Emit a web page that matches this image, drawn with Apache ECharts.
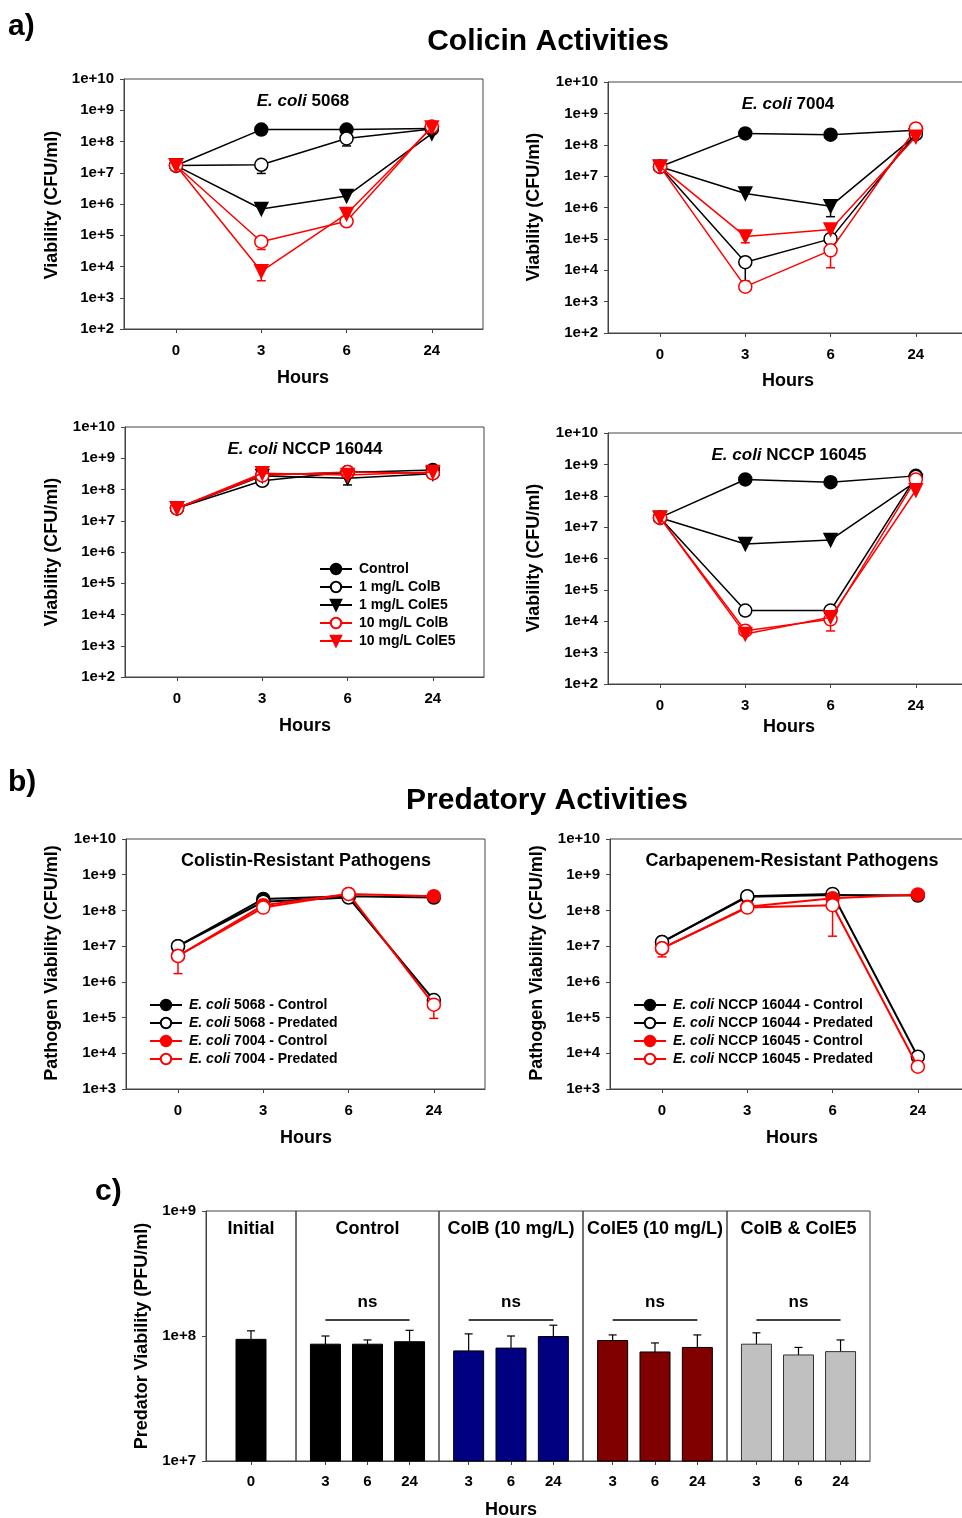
<!DOCTYPE html>
<html>
<head>
<meta charset="utf-8">
<script src="https://cdn.jsdelivr.net/npm/echarts@6/dist/echarts.min.js"></script>
<style>
html,body{margin:0;padding:0;background:#fff;}
#chart{width:962px;height:1518px;}
</style>
</head>
<body>
<div id="chart"></div>
<script>
// ---------------- DATA ----------------
const hours = ['0', '3', '6', '24'];
const colicinNames = ['Control', '1 mg/L ColB', '1 mg/L ColE5', '10 mg/L ColB', '10 mg/L ColE5'];
const colicinPanelTitles = ['5068', '7004', 'NCCP 16044', 'NCCP 16045'];

// rows follow colicinNames; columns follow hours (CFU/ml)
const colicin5068 = [
  [1.7e7, 2.4e8, 2.4e8, 2.6e8],
  [1.7e7, 1.8e7, 1.25e8, 2.5e8],
  [1.7e7, 6.9e5, 1.8e6, 1.8e8],
  [1.7e7, 6.2e4, 2.8e5, 3.0e8],
  [1.7e7, 7.0e3, 4.8e5, 2.8e8]
];
const colicin5068Err = [
  [null, null, null, null],
  [null, 9.5e6, 7.2e7, null],
  [null, null, null, null],
  [null, 3.5e4, null, null],
  [null, 3.5e3, 7.0e5, null]
];
const colicin7004 = [
  [2.0e7, 2.3e8, 2.1e8, 2.9e8],
  [2.0e7, 1.8e4, 1.0e5, 2.2e8],
  [2.0e7, 2.8e6, 1.1e6, 2.0e8],
  [2.0e7, 3.0e3, 4.3e4, 3.3e8],
  [2.0e7, 1.2e5, 2.0e5, 1.8e8]
];
const colicin7004Err = [
  [null, null, null, null],
  [null, 4.5e3, null, null],
  [null, null, 5.1e5, null],
  [null, null, 1.2e4, null],
  [null, 7.5e4, null, null]
];
const colicin16044 = [
  [2.5e7, 2.9e8, 3.5e8, 4.2e8],
  [2.5e7, 1.9e8, 3.6e8, 3.4e8],
  [2.5e7, 2.7e8, 2.3e8, 3.2e8],
  [2.5e7, 2.8e8, 3.6e8, 3.3e8],
  [2.5e7, 3.3e8, 2.9e8, 3.6e8]
];
const colicin16044Err = [
  [null, null, null, null],
  [null, null, null, null],
  [null, null, 1.4e8, null],
  [null, null, null, null],
  [null, null, null, null]
];
const colicin16045 = [
  [2.0e7, 3.3e8, 2.7e8, 4.3e8],
  [2.0e7, 2.2e4, 2.2e4, 4.0e8],
  [2.0e7, 2.9e6, 3.9e6, 2.8e8],
  [2.0e7, 5.0e3, 1.15e4, 3.3e8],
  [2.0e7, 3.9e3, 1.35e4, 1.5e8]
];
const colicin16045Err = [
  [null, null, null, null],
  [null, null, null, null],
  [null, null, null, null],
  [null, null, 4.9e3, null],
  [null, null, null, null]
];

const colistinNames = ['E. coli 5068 - Control', 'E. coli 5068 - Predated', 'E. coli 7004 - Control', 'E. coli 7004 - Predated'];
const colistinValues = [
  [1.0e7, 2.1e8, 2.5e8, 2.3e8],
  [1.0e7, 1.75e8, 2.3e8, 3.1e5],
  [5.3e6, 1.4e8, 2.9e8, 2.5e8],
  [5.3e6, 1.2e8, 2.9e8, 2.3e5]
];
const colistinErr = [
  [null, null, null, null],
  [null, null, null, null],
  [null, null, null, null],
  [1.7e6, null, null, 9.5e4]
];
const carbaNames = ['E. coli NCCP 16044 - Control', 'E. coli NCCP 16044 - Predated', 'E. coli NCCP 16045 - Control', 'E. coli NCCP 16045 - Predated'];
const carbaValues = [
  [1.3e7, 2.4e8, 2.7e8, 2.6e8],
  [1.3e7, 2.5e8, 2.9e8, 8.0e3],
  [8.7e6, 1.26e8, 2.2e8, 2.8e8],
  [8.7e6, 1.2e8, 1.4e8, 4.2e3]
];
const carbaErr = [
  [null, null, null, null],
  [null, null, null, null],
  [null, null, null, null],
  [5.0e6, null, 1.9e7, null]
];

const predatorGroups = ['Initial', 'Control', 'ColB (10 mg/L)', 'ColE5 (10 mg/L)', 'ColB & ColE5'];
const predatorHours = [['0'], ['3', '6', '24'], ['3', '6', '24'], ['3', '6', '24'], ['3', '6', '24']];
const predatorValues = [
  [9.4e7],
  [8.6e7, 8.6e7, 9.0e7],
  [7.6e7, 8.0e7, 9.9e7],
  [9.2e7, 7.45e7, 8.1e7],
  [8.6e7, 7.05e7, 7.5e7]
];
const predatorErrTop = [
  [1.1e8],
  [1.0e8, 9.3e7, 1.11e8],
  [1.04e8, 1.0e8, 1.22e8],
  [1.02e8, 8.8e7, 1.02e8],
  [1.06e8, 8.1e7, 9.3e7]
];
const predatorSignif = ['', 'ns', 'ns', 'ns', 'ns'];

// ---------------- STYLE / LAYOUT ----------------
const FONT = '"Liberation Sans", Arial, Helvetica, sans-serif';
const AX = '#444';
const colicinStyles = [
  {symbol: 'circle', rot: 0, fill: '#000', stroke: '#000'},
  {symbol: 'circle', rot: 0, fill: '#fff', stroke: '#000'},
  {symbol: 'triangle', rot: 180, fill: '#000', stroke: '#000'},
  {symbol: 'circle', rot: 0, fill: '#fff', stroke: '#ff0000'},
  {symbol: 'triangle', rot: 180, fill: '#ff0000', stroke: '#ff0000'}
];
const predStyles = [
  {symbol: 'circle', rot: 0, fill: '#000', stroke: '#000'},
  {symbol: 'circle', rot: 0, fill: '#fff', stroke: '#000'},
  {symbol: 'circle', rot: 0, fill: '#ff0000', stroke: '#ff0000'},
  {symbol: 'circle', rot: 0, fill: '#fff', stroke: '#ff0000'}
];
const barColors = ['#000000', '#000000', '#000080', '#800000', '#c0c0c0'];
const barBorders = ['#000', '#000', '#000', '#000', '#333'];

const linePanels = [
  {grid: {left: 124, top: 79, width: 359, height: 250}, ymin: 1e2, title: [303, 101], yname: [52, 205], hrs: [303, 378],
   names: colicinNames, styles: colicinStyles, values: colicin5068, err: colicin5068Err, kind: 'a', t: colicinPanelTitles[0], size: 13, lw: 1.5},
  {grid: {left: 608, top: 82, width: 359, height: 251}, ymin: 1e2, title: [788, 104], yname: [534, 207], hrs: [788, 381],
   names: colicinNames, styles: colicinStyles, values: colicin7004, err: colicin7004Err, kind: 'a', t: colicinPanelTitles[1], size: 13, lw: 1.5},
  {grid: {left: 125, top: 427, width: 359, height: 250}, ymin: 1e2, title: [305, 449], yname: [52, 552], hrs: [305, 726],
   names: colicinNames, styles: colicinStyles, values: colicin16044, err: colicin16044Err, kind: 'a', t: colicinPanelTitles[2], size: 13, lw: 1.5},
  {grid: {left: 608, top: 433, width: 359, height: 251}, ymin: 1e2, title: [789, 455], yname: [534, 558], hrs: [789, 727],
   names: colicinNames, styles: colicinStyles, values: colicin16045, err: colicin16045Err, kind: 'a', t: colicinPanelTitles[3], size: 13, lw: 1.5},
  {grid: {left: 126, top: 839, width: 359, height: 250}, ymin: 1e3, title: [306, 861], yname: [52, 963], hrs: [306, 1138],
   names: colistinNames, styles: predStyles, values: colistinValues, err: colistinErr, kind: 'b', t: 'Colistin-Resistant Pathogens', size: 13, lw: 2},
  {grid: {left: 610, top: 839, width: 359, height: 250}, ymin: 1e3, title: [792, 861], yname: [537, 963], hrs: [792, 1138],
   names: carbaNames, styles: predStyles, values: carbaValues, err: carbaErr, kind: 'b', t: 'Carbapenem-Resistant Pathogens', size: 13, lw: 2}
];
const barSections = [
  {left: 206, width: 90, min: -1, max: 1},
  {left: 296, width: 143, min: -0.7, max: 2.7},
  {left: 439, width: 144, min: -0.7, max: 2.7},
  {left: 583, width: 144, min: -0.7, max: 2.7},
  {left: 727, width: 143, min: -0.7, max: 2.7}
];
const barTop = 1211, barHeight = 250;

const expLabel = v => '1e+' + Math.round(Math.log10(v));
const labelStyle = {fontSize: 15, fontWeight: 'bold', color: '#000', fontFamily: FONT};

const grids = [], xAxes = [], yAxes = [], series = [], graphics = [];

function text(x, y, t, size, extra) {
  const e = Object.assign({
    type: 'text', x: x, y: y, silent: true,
    style: Object.assign({
      text: t, fill: '#000', fontSize: size, fontWeight: 'bold', fontFamily: FONT,
      align: 'center', verticalAlign: 'middle'
    }, (extra && extra.style) || {})
  }, extra && extra.rotation ? {rotation: extra.rotation} : {});
  graphics.push(e);
}
const italicRich = size => ({i: {fontStyle: 'italic', fontWeight: 'bold', fontSize: size, fontFamily: FONT, fill: '#000'}});

function errRender(color, lw) {
  return function (params, api) {
    const x = api.value(0), v = api.value(1), e = api.value(2);
    const p = api.coord([x, v]);
    const q = api.coord([x, e]);
    return {type: 'group', children: [
      {type: 'line', shape: {x1: p[0], y1: p[1], x2: q[0], y2: q[1]}, style: {stroke: color, lineWidth: lw}},
      {type: 'line', shape: {x1: q[0] - 4.5, y1: q[1], x2: q[0] + 4.5, y2: q[1]}, style: {stroke: color, lineWidth: lw}}
    ]};
  };
}

// ---------------- LINE PANELS ----------------
linePanels.forEach((P, k) => {
  grids.push(Object.assign({show: true, borderColor: AX, borderWidth: 1, outerBoundsMode: 'none', containLabel: false}, P.grid));
  xAxes.push({
    gridIndex: k, type: 'value', min: -0.61, max: 3.6, position: 'bottom',
    axisLine: {show: true, onZero: false, lineStyle: {color: AX, width: 1}},
    axisTick: {show: true, length: 4, customValues: [0, 1, 2, 3], lineStyle: {color: AX}},
    axisLabel: Object.assign({customValues: [0, 1, 2, 3], margin: 14, formatter: v => hours[Math.round(v)]}, labelStyle),
    splitLine: {show: false}
  });
  yAxes.push({
    gridIndex: k, type: 'log', logBase: 10, min: P.ymin, max: 1e10, position: 'left',
    axisLine: {show: true, onZero: false, lineStyle: {color: AX, width: 1}},
    axisTick: {show: true, length: 4, lineStyle: {color: AX}},
    axisLabel: Object.assign({margin: 10, formatter: expLabel}, labelStyle),
    splitLine: {show: false}, minorTick: {show: false}
  });
  P.values.forEach((row, s) => {
    const st = P.styles[s];
    const errData = [];
    P.err[s].forEach((e, i) => { if (e != null) errData.push([i, row[i], e]); });
    if (errData.length) {
      series.push({type: 'custom', xAxisIndex: k, yAxisIndex: k, z: 1, silent: true,
        renderItem: errRender(st.stroke, 1.5), data: errData});
    }
    series.push({
      type: 'line', name: P.names[s], xAxisIndex: k, yAxisIndex: k, z: 2 + s * 0.01,
      data: row.map((v, i) => [i, v]),
      symbol: st.symbol, symbolSize: P.size, symbolRotate: st.rot, showAllSymbol: true,
      lineStyle: {color: st.stroke, width: P.lw},
      itemStyle: {color: st.fill, borderColor: st.stroke, borderWidth: 1.5},
      emphasis: {disabled: true}, animation: false
    });
  });
  if (P.kind === 'a') {
    text(P.title[0], P.title[1], '{i|E. coli} ' + P.t, 17, {style: {rich: italicRich(17)}});
  } else {
    text(P.title[0], P.title[1], P.t, 18);
  }
  text(P.yname[0], P.yname[1], P.kind === 'a' ? 'Viability (CFU/ml)' : 'Pathogen Viability (CFU/ml)', 18, {rotation: Math.PI / 2});
  text(P.hrs[0], P.hrs[1], 'Hours', 18);
});

// ---------------- BAR PANEL ----------------
barSections.forEach((S, j) => {
  const gi = grids.length;
  grids.push({show: true, borderColor: AX, borderWidth: 1, left: S.left, width: S.width, top: barTop, height: barHeight, outerBoundsMode: 'none', containLabel: false});
  const ticks = predatorHours[j].map((h, i) => i);
  xAxes.push({
    gridIndex: gi, type: 'value', min: S.min, max: S.max, position: 'bottom',
    axisLine: {show: true, onZero: false, lineStyle: {color: AX}},
    axisTick: {show: true, length: 4, customValues: ticks, lineStyle: {color: AX}},
    axisLabel: Object.assign({customValues: ticks, margin: 13, formatter: v => predatorHours[j][Math.round(v)]}, labelStyle),
    splitLine: {show: false}
  });
  yAxes.push({
    gridIndex: gi, type: 'log', logBase: 10, min: 1e7, max: 1e9, show: j === 0, position: 'left',
    axisLine: {show: true, onZero: false, lineStyle: {color: AX}},
    axisTick: {show: true, length: 4, lineStyle: {color: AX}},
    axisLabel: Object.assign({margin: 10, formatter: expLabel}, labelStyle),
    splitLine: {show: false}, minorTick: {show: false}
  });
  const col = barColors[j], bd = barBorders[j];
  series.push({
    type: 'custom', xAxisIndex: gi, yAxisIndex: gi, silent: true,
    data: predatorValues[j].map((v, i) => [i, v, predatorErrTop[j][i]]),
    renderItem: function (params, api) {
      const x = api.value(0), v = api.value(1), e = api.value(2);
      const p = api.coord([x, v]);
      const q = api.coord([x, e]);
      const base = params.coordSys.y + params.coordSys.height;
      const hw = 15;
      return {type: 'group', children: [
        {type: 'line', shape: {x1: p[0], y1: p[1], x2: q[0], y2: q[1]}, style: {stroke: '#000', lineWidth: 1.2}},
        {type: 'line', shape: {x1: q[0] - 4, y1: q[1], x2: q[0] + 4, y2: q[1]}, style: {stroke: '#000', lineWidth: 1.2}},
        {type: 'rect', shape: {x: p[0] - hw, y: p[1], width: hw * 2, height: base - p[1]}, style: {fill: col, stroke: bd, lineWidth: 1}}
      ]};
    }
  });
  if (predatorSignif[j]) {
    const n = predatorValues[j].length - 1;
    series.push({
      type: 'custom', xAxisIndex: gi, yAxisIndex: gi, silent: true,
      data: [[0, n]],
      renderItem: function (params, api) {
        const a = api.coord([api.value(0), 1.34e8]);
        const b = api.coord([api.value(1), 1.34e8]);
        const t = api.coord([(api.value(0) + api.value(1)) / 2, 1.86e8]);
        return {type: 'group', children: [
          {type: 'line', shape: {x1: a[0], y1: a[1], x2: b[0], y2: b[1]}, style: {stroke: '#000', lineWidth: 1.5}},
          {type: 'text', x: t[0], y: t[1], style: {text: predatorSignif[j], fill: '#000', fontSize: 17, fontWeight: 'bold', fontFamily: FONT, align: 'center', verticalAlign: 'middle'}}
        ]};
      }
    });
  }
  text(S.left + S.width / 2, 1229, predatorGroups[j], 18);
});
text(142, 1336, 'Predator Viability (PFU/ml)', 18, {rotation: Math.PI / 2});
text(511, 1510, 'Hours', 18);

// ---------------- HEADINGS ----------------
text(548, 42, 'Colicin Activities', 30);
text(547, 801, 'Predatory Activities', 30);
text(8, 27, 'a)', 30, {style: {align: 'left'}});
text(8, 783, 'b)', 30, {style: {align: 'left'}});
text(95, 1192, 'c)', 30, {style: {align: 'left'}});

// ---------------- LEGENDS ----------------
const legendBase = {
  orient: 'vertical', itemWidth: 32, itemHeight: 13, itemGap: 4, padding: 0,
  selectedMode: false,
  textStyle: {fontSize: 14, fontWeight: 'bold', color: '#000', fontFamily: FONT, padding: [0, 0, 0, 2]}
};
const italicFormatter = name => name.replace('E. coli', '{i|E. coli}');
const richI = {i: {fontStyle: 'italic', fontWeight: 'bold', fontSize: 14, fontFamily: FONT, color: '#000'}};
const legends = [
  Object.assign({}, legendBase, {left: 319, top: 562, data: colicinNames}),
  Object.assign({}, legendBase, {left: 149, top: 998, data: colistinNames, formatter: italicFormatter,
    textStyle: Object.assign({}, legendBase.textStyle, {rich: richI})}),
  Object.assign({}, legendBase, {left: 633, top: 998, data: carbaNames, formatter: italicFormatter,
    textStyle: Object.assign({}, legendBase.textStyle, {rich: richI})})
];

const chart = echarts.init(document.getElementById('chart'), null, {renderer: 'canvas'});
chart.setOption({
  animation: false,
  backgroundColor: '#fff',
  grid: grids,
  xAxis: xAxes,
  yAxis: yAxes,
  legend: legends,
  series: series,
  graphic: graphics
});
</script>
</body>
</html>
